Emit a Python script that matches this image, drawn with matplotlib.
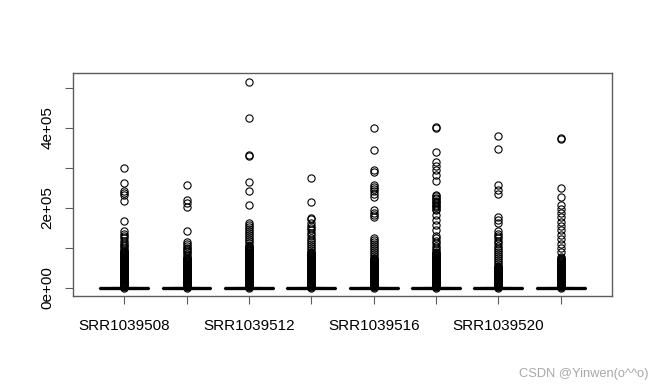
import matplotlib
matplotlib.use('Agg')
import matplotlib.pyplot as plt
from matplotlib.ticker import FixedLocator

plt.rcParams['font.family'] = ['Liberation Sans', 'DejaVu Sans']

# sample names (R drops every second label because they would overlap)
samples = ['SRR1039508', 'SRR1039509', 'SRR1039512', 'SRR1039513',
           'SRR1039516', 'SRR1039517', 'SRR1039520', 'SRR1039521']
shown_labels = ['SRR1039508', '', 'SRR1039512', '',
                'SRR1039516', '', 'SRR1039520', '']

# box statistics (counts), boxes collapse to ~0
medians = [0, 0, 0, 0, 0, 0, 0, 0]
q1s = [0, 0, 0, 0, 0, 0, 0, 0]
q3s = [700, 650, 750, 700, 720, 680, 700, 690]
whis_hi = [1700, 1600, 1800, 1700, 1750, 1650, 1700, 1680]

# the solid black part of each outlier column (thousands of counts)
low_k = [1, 2.5, 4, 5.5, 7, 8.5, 10, 11.5, 13, 14.5, 16, 17.5, 19, 20.5, 22,
         23.5, 25, 26.5, 28, 29.5, 31, 32.5, 34, 35.5, 37, 38.5, 40, 41.5, 43,
         44.5, 46, 47.5, 49, 50.5, 52, 53.5, 55, 56.5, 58, 59.5, 61, 62.5, 64,
         65.5, 67, 68.5, 70, 71.5, 73, 74.5, 76, 77.5, 79, 80.5, 82, 83.5, 85,
         86.5, 88, 89.5, 91, 92.5, 94, 95.5, 97, 98.5, 100, 101.5, 103, 104.5,
         106, 107.5]
dense_top = [95, 77, 107, 90, 75, 90, 55, 75]

# the sparser outliers above it (thousands)
out_508 = [100, 104, 108, 113, 118, 124, 130, 136, 143, 168, 218, 233, 238,
           243, 262, 299]
out_509 = [81, 85, 89, 93, 97, 101, 105, 110, 116, 142, 203, 212, 220, 257]
out_512 = [112, 117, 122, 127, 132, 137, 142, 147, 152, 157, 162,
           207, 242, 266, 330, 333, 424, 516]
out_513 = [94, 99, 104, 109, 114, 120, 126, 132, 138, 144, 150, 156, 162,
           172, 174, 216, 274]
out_516 = [80, 85, 90, 95, 100, 105, 110, 115, 120, 125,
           178, 183, 188, 194, 228, 236, 242, 247, 252, 258, 291, 295, 345, 399]
out_517 = [95, 100, 106, 112, 118, 124, 129,
           145, 158, 170, 183, 195, 198, 202, 205, 208, 212, 215, 218, 222,
           225, 229, 232, 268, 283, 295, 306, 316, 340, 399, 402]
out_520 = [60, 65, 70, 75, 80, 85, 90, 95, 100, 106, 112, 118, 124, 130, 136,
           142, 162, 170, 178, 234, 245, 258, 347, 380]
out_521 = [78, 89, 100, 111, 122, 133, 144, 155, 166, 177, 188, 198, 207,
           228, 249, 372, 375]
outliers = [out_508, out_509, out_512, out_513, out_516, out_517, out_520, out_521]

stats = []
for i in range(len(samples)):
    fl = [v for v in low_k if v <= dense_top[i]] + outliers[i]
    stats.append({
        'label': samples[i],
        'med': medians[i], 'q1': q1s[i], 'q3': q3s[i],
        'whislo': 0, 'whishi': whis_hi[i],
        'fliers': [v * 1000 for v in fl],
    })

fig = plt.figure(figsize=(6.5, 3.88), dpi=100)
ax = fig.add_axes([0.1123, 0.2371, 0.8292, 0.5748])

ax.bxp(stats, positions=range(1, 9), widths=0.8, capwidths=0.4,
       boxprops=dict(color='black', linewidth=0.8),
       medianprops=dict(color='black', linewidth=2.4, solid_capstyle='butt'),
       whiskerprops=dict(color='black', linewidth=0.8, linestyle='--'),
       capprops=dict(color='black', linewidth=0.8),
       flierprops=dict(marker='o', markerfacecolor='none', markeredgecolor='black',
                       markersize=5.2, markeredgewidth=0.8, linestyle='none'))

ax.set_xlim(0.18, 8.82)
ax.set_ylim(-20000, 537500)

ax.set_xticks(range(1, 9))
ax.set_xticklabels(shown_labels, fontsize=11)
ax.set_yticks([0, 200000, 400000])
ax.set_yticklabels(['0e+00', '2e+05', '4e+05'], fontsize=11, rotation=90, va='center')
ax.yaxis.set_minor_locator(FixedLocator([100000, 300000, 500000]))

edge = '#5c5c5c'
for s in ax.spines.values():
    s.set_color(edge)
    s.set_linewidth(1.0)
ax.tick_params(axis='x', which='both', length=5.5, width=0.8, color=edge, pad=11)
ax.tick_params(axis='y', which='both', length=5.5, width=0.8, color=edge, pad=8)

fig.text(0.997, 0.035, 'CSDN @Yinwen(o^^o)', ha='right', va='center',
         fontsize=9.3, color='#a8a8a8')

fig.savefig('out.png', dpi=100)
